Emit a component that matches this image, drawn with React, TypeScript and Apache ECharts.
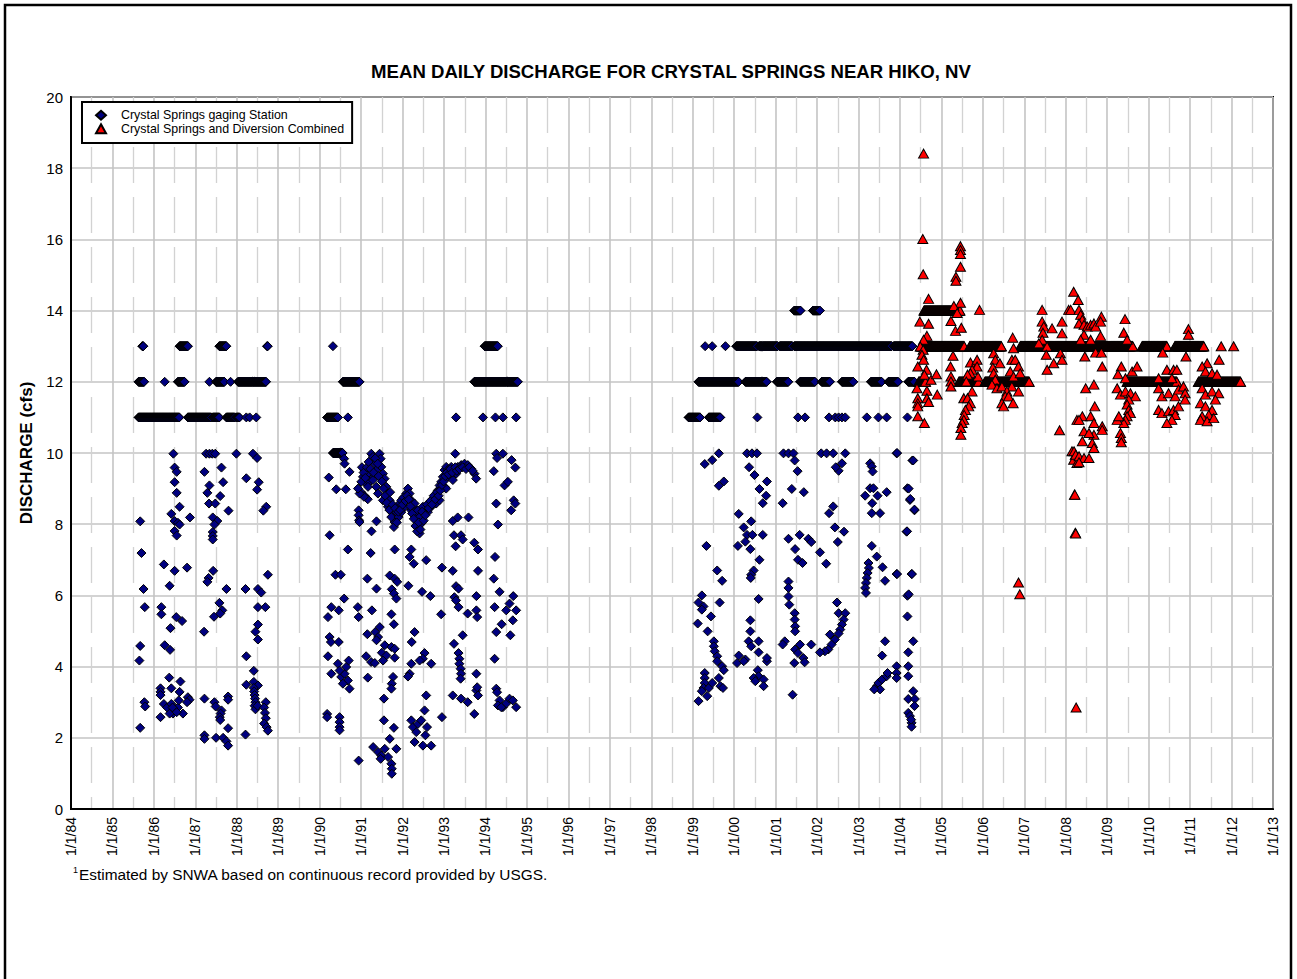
import React, { useEffect, useRef } from "react";
import * as echarts from "echarts";

const FONT = "'Liberation Sans', Arial, Helvetica, sans-serif";

const xTickLabels = [
  "1/1/84", "1/1/85", "1/1/86", "1/1/87", "1/1/88", "1/1/89", "1/1/90", "1/1/91", "1/1/92", "1/1/93",
  "1/1/94", "1/1/95", "1/1/96", "1/1/97", "1/1/98", "1/1/99", "1/1/00", "1/1/01", "1/1/02", "1/1/03",
  "1/1/04", "1/1/05", "1/1/06", "1/1/07", "1/1/08", "1/1/09", "1/1/10", "1/1/11", "1/1/12", "1/1/13",
];

// Runs of constant daily discharge: [startYear, endYear, cfs]
const blueRuns: number[][] = [
  [1985.72, 1985.75, 13], [1986.62, 1986.82, 13], [1987.58, 1987.75, 13], [1988.73, 1988.75, 13],
  [1985.63, 1985.77, 12], [1986.26, 1986.26, 12], [1986.58, 1986.74, 12], [1987.34, 1987.34, 12], [1987.5, 1987.7, 12], [1987.85, 1987.85, 12], [1988.03, 1988.71, 12],
  [1985.63, 1986.62, 11], [1986.82, 1987.38, 11], [1987.42, 1987.58, 11], [1987.75, 1987.95, 11], [1987.99, 1988.07, 11], [1988.23, 1988.23, 11], [1988.31, 1988.31, 11], [1988.47, 1988.47, 11],
  [1990.32, 1990.32, 13], [1993.98, 1994.3, 13],
  [1990.56, 1990.96, 12], [1993.73, 1994.78, 12],
  [1990.18, 1990.44, 11], [1990.68, 1990.68, 11], [1993.29, 1993.29, 11], [1993.94, 1993.94, 11], [1994.24, 1994.24, 11], [1994.42, 1994.42, 11], [1994.74, 1994.74, 11],
  [1990.32, 1990.56, 10],
  [2001.45, 2001.6, 14], [2001.9, 2002.07, 14],
  [1999.3, 1999.3, 13], [1999.47, 1999.47, 13], [1999.79, 1999.79, 13], [2000.05, 2000.55, 13], [2000.6, 2001.05, 13], [2001.1, 2001.4, 13], [2001.45, 2003.8, 13], [2003.85, 2004.3, 13],
  [1999.14, 2000.11, 12], [2000.27, 2000.79, 12], [2001.03, 2001.31, 12], [2001.59, 2001.95, 12], [2002.11, 2002.31, 12], [2002.6, 2002.88, 12], [2003.3, 2003.56, 12], [2003.72, 2003.96, 12], [2004.2, 2004.35, 12],
  [1998.9, 1999.18, 11], [1999.39, 1999.67, 11], [2000.56, 2000.56, 11], [2001.54, 2001.54, 11], [2001.71, 2001.71, 11],
  [2002.29, 2002.29, 11], [2002.44, 2002.44, 11], [2002.52, 2002.52, 11], [2002.6, 2002.6, 11], [2002.68, 2002.68, 11],
  [2003.2, 2003.2, 11], [2003.48, 2003.48, 11], [2003.68, 2003.68, 11], [2004.18, 2004.18, 11],
];

const redRuns: number[][] = [
  [2004.58, 2005.45, 14],
  [2004.5, 2005.55, 13], [2005.68, 2006.45, 13], [2006.9, 2009.62, 13], [2009.84, 2010.44, 13], [2010.63, 2011.33, 13], [2011.75, 2011.75, 13], [2012.05, 2012.05, 13],
  [2004.45, 2004.62, 12], [2005.42, 2005.9, 12], [2006.05, 2007.12, 12], [2009.48, 2010.68, 12], [2011.2, 2012.22, 12],
];

// 1985-1989 record
const blueA: number[][] = [
  [1986.47, 9.98], [1987.26, 9.98], [1987.34, 9.98], [1987.41, 9.98], [1987.48, 9.98], [1987.99, 9.98], [1988.39, 9.98], [1988.49, 9.86],
  [1986.5, 9.59], [1986.55, 9.47], [1987.22, 9.47], [1987.63, 9.59], [1988.23, 9.29], [1986.5, 9.18], [1987.67, 9.18], [1988.53, 9.18],
  [1987.34, 9.09], [1988.49, 8.97], [1986.55, 8.88], [1987.29, 8.88], [1987.6, 8.79], [1987.33, 8.58], [1987.48, 8.58], [1986.62, 8.49],
  [1988.71, 8.49], [1988.64, 8.38], [1987.8, 8.38], [1986.42, 8.29], [1986.87, 8.19], [1986.5, 8.09], [1986.58, 8.04], [1986.62, 7.99],
  [1987.42, 8.19], [1987.53, 8.09], [1987.46, 7.99], [1985.67, 8.08], [1986.5, 7.81], [1986.55, 7.68], [1987.42, 7.78], [1987.42, 7.67],
  [1987.42, 7.57], [1985.7, 7.19], [1986.24, 6.87], [1986.5, 6.69], [1986.8, 6.78], [1986.38, 6.27], [1985.75, 6.18], [1987.43, 6.69],
  [1987.32, 6.49], [1987.29, 6.38], [1987.75, 6.18], [1988.21, 6.18], [1988.51, 6.18], [1988.59, 6.08], [1988.75, 6.58],
  [1985.78, 5.67], [1986.18, 5.67], [1986.18, 5.47], [1986.54, 5.39], [1986.68, 5.28], [1986.4, 5.08], [1987.58, 5.79], [1987.65, 5.58],
  [1987.6, 5.49], [1987.45, 5.4], [1987.21, 4.98], [1988.51, 5.67], [1988.69, 5.67], [1988.51, 5.18], [1988.45, 4.98], [1988.51, 4.76],
  [1985.67, 4.58], [1986.26, 4.6], [1986.39, 4.47], [1985.65, 4.17], [1988.23, 4.29], [1988.41, 3.88], [1988.23, 3.49], [1988.41, 3.57],
  [1988.51, 3.47], [1986.37, 3.69], [1986.64, 3.58], [1986.16, 3.39], [1986.16, 3.29], [1986.16, 3.2], [1986.42, 3.39], [1986.62, 3.29],
  [1986.82, 3.14], [1986.86, 3.07], [1985.77, 3.0], [1985.79, 2.88],
  [1986.24, 2.95], [1986.32, 2.85], [1986.42, 2.95], [1986.5, 2.76], [1986.58, 2.85], [1986.7, 2.68], [1986.46, 2.68], [1986.38, 2.68],
  [1986.45, 2.85], [1986.55, 2.72], [1986.8, 3.0], [1986.6, 3.05],
  [1986.16, 2.58], [1985.67, 2.28], [1987.22, 3.1], [1987.46, 3.0], [1987.49, 2.88], [1987.63, 2.77], [1987.61, 2.68], [1987.59, 2.58],
  [1987.6, 2.5], [1987.79, 3.16], [1987.79, 3.07], [1987.79, 2.27], [1987.22, 2.07], [1987.22, 1.97], [1987.5, 2.0], [1987.67, 2.0],
  [1987.75, 1.9], [1987.79, 1.78], [1988.21, 2.09],
  [1988.41, 3.4], [1988.42, 3.3], [1988.43, 3.2], [1988.44, 3.1], [1988.45, 3.0], [1988.43, 2.9], [1988.45, 2.8], [1988.5, 2.9],
  [1988.7, 3.0], [1988.66, 2.85], [1988.68, 2.7], [1988.7, 2.55], [1988.66, 2.4], [1988.72, 2.3], [1988.75, 2.2],
];

// 1990-1995 record, scattered days
const blueB: number[][] = [
  [1990.59, 9.84], [1990.6, 9.7], [1993.27, 9.98], [1994.26, 9.98], [1994.42, 9.98], [1994.28, 9.86], [1990.22, 9.31], [1990.72, 9.47],
  [1990.4, 8.98], [1990.63, 8.98], [1990.94, 8.39], [1990.94, 8.25], [1990.95, 8.11], [1990.96, 8.06], [1991.0, 8.9], [1991.08, 8.8], [1991.16, 8.7],
  [1990.24, 7.69], [1990.68, 7.29], [1991.25, 7.8], [1991.37, 8.08], [1991.23, 7.19], [1991.81, 7.29], [1992.21, 7.29], [1992.17, 7.08],
  [1992.27, 6.89], [1992.57, 6.99], [1992.95, 6.78], [1993.21, 8.09], [1993.33, 8.19], [1993.24, 7.69], [1993.41, 7.69], [1993.45, 7.57],
  [1993.28, 7.38], [1993.73, 7.48], [1993.82, 7.29], [1993.59, 8.19], [1993.21, 6.69], [1993.82, 6.69], [1994.23, 7.08], [1994.2, 6.47],
  [1994.26, 8.58], [1994.3, 7.99], [1994.46, 9.09], [1994.54, 9.19], [1994.68, 8.67], [1994.72, 8.58], [1994.62, 8.39], [1994.63, 9.8],
  [1994.72, 9.59], [1994.2, 9.49],
  [1990.38, 6.58], [1990.51, 6.58], [1990.59, 5.91], [1990.28, 5.67], [1990.2, 5.39], [1990.46, 5.58], [1990.92, 5.67], [1990.94, 5.39],
  [1991.15, 6.47], [1991.37, 6.19], [1991.26, 5.58], [1991.69, 6.56], [1991.81, 6.47], [1991.87, 6.38], [1991.74, 6.17], [1991.79, 6.05],
  [1991.85, 5.91], [1991.73, 5.47], [1991.79, 5.19], [1992.14, 6.27], [1992.47, 6.1], [1992.67, 5.98], [1992.93, 5.47], [1993.29, 6.26],
  [1993.35, 6.19], [1993.25, 5.95], [1993.29, 5.86], [1993.35, 5.67], [1993.57, 5.49], [1993.78, 5.98], [1993.78, 5.58], [1993.8, 5.39],
  [1994.22, 5.67], [1994.34, 6.1], [1994.5, 5.58], [1994.58, 5.77], [1994.67, 5.98], [1994.74, 5.58], [1994.66, 5.3], [1994.39, 5.19],
  [1994.26, 4.97], [1994.6, 4.88],
  [1990.24, 4.83], [1990.27, 4.69], [1990.46, 4.69], [1991.15, 4.91], [1991.34, 4.97], [1991.45, 5.11], [1991.41, 4.83], [1991.37, 4.74],
  [1991.57, 4.6], [1991.73, 4.55], [1991.81, 4.5], [1991.5, 4.39], [1991.61, 4.31], [1991.81, 4.25], [1992.29, 4.97], [1992.22, 4.69],
  [1992.53, 4.38], [1992.49, 4.22], [1992.41, 4.17], [1992.69, 4.08], [1990.2, 4.29], [1990.28, 3.8], [1990.44, 4.08], [1990.52, 3.71],
  [1990.6, 3.8], [1990.68, 3.61], [1990.72, 3.38], [1990.48, 3.89], [1990.64, 3.99], [1990.7, 4.17], [1990.56, 3.52], [1991.12, 4.29],
  [1991.16, 3.69], [1991.24, 4.13], [1991.33, 4.1], [1991.53, 4.17], [1991.77, 3.71], [1991.74, 3.52], [1991.73, 3.38], [1991.55, 3.1],
  [1992.21, 4.08], [1992.17, 3.8], [1992.13, 3.72], [1992.57, 3.19], [1993.24, 4.64], [1993.35, 4.38], [1993.37, 4.22], [1993.37, 4.08],
  [1993.4, 3.94], [1993.41, 3.8], [1993.4, 3.66], [1993.45, 4.88], [1993.21, 3.19], [1993.41, 3.1], [1993.57, 3.0], [1993.73, 2.67],
  [1993.78, 3.33], [1993.82, 3.19], [1993.8, 3.42], [1993.78, 3.8], [1994.22, 4.22], [1994.26, 3.38], [1994.28, 3.28], [1994.34, 3.05],
  [1994.42, 2.86], [1994.5, 2.96], [1994.58, 3.1], [1994.66, 3.05], [1994.74, 2.86], [1994.3, 2.91], [1994.38, 2.86],
  [1990.18, 2.67], [1990.18, 2.58], [1990.48, 2.58], [1990.48, 2.44], [1990.48, 2.3], [1990.48, 2.21], [1991.55, 2.49], [1991.79, 2.28],
  [1991.69, 1.97], [1991.29, 1.74], [1991.41, 1.6], [1991.49, 1.5], [1991.57, 1.69], [1991.65, 1.46], [1991.73, 1.27], [1991.74, 1.13],
  [1991.74, 0.99], [1991.85, 1.69], [1991.47, 1.41], [1990.94, 1.36], [1992.21, 2.49], [1992.25, 2.3], [1992.33, 2.16], [1992.37, 2.39],
  [1992.45, 2.49], [1992.53, 2.77], [1992.49, 1.78], [1992.29, 1.88], [1992.69, 1.78], [1992.59, 2.3], [1992.95, 2.58], [1992.55, 2.07],
];

// 1991-1993 continuous recession/recovery trace
const blueCurve: number[][] = [
  [1991.245, 9.98], [1991.285, 9.89], [1991.446, 9.98], [1991.47, 9.84], [1991.325, 9.7], [1991.365, 9.52], [1991.245, 9.33], [1991.165, 9.42],
  [1991.084, 9.52], [1991.044, 9.33], [1991.124, 9.14], [1991.205, 9.19], [1991.285, 9.24], [1991.486, 9.61], [1991.526, 9.42], [1991.566, 9.28],
  [1991.606, 9.05], [1991.647, 8.86], [1991.687, 8.67], [1991.711, 8.49], [1991.743, 8.34], [1991.767, 8.2], [1991.807, 8.06], [1991.791, 7.92],
  [1991.847, 8.34], [1991.888, 8.49], [1991.928, 8.58], [1991.968, 8.67], [1992.048, 8.77], [1992.088, 8.86], [1992.129, 9.0], [1992.169, 8.86],
  [1992.209, 8.67], [1992.249, 8.49], [1992.289, 8.3], [1992.329, 8.11], [1992.369, 7.92], [1992.41, 7.74], [1992.45, 8.02], [1992.49, 8.2],
  [1992.53, 8.34], [1992.57, 8.44], [1992.651, 8.58], [1992.731, 8.72], [1992.811, 8.81], [1992.851, 8.95], [1992.892, 9.09], [1992.932, 9.19],
  [1992.972, 9.33], [1993.012, 9.52], [1993.052, 9.61], [1993.092, 9.52], [1993.173, 9.61], [1993.253, 9.52], [1993.333, 9.61], [1993.414, 9.66],
  [1993.494, 9.7], [1993.574, 9.66], [1993.655, 9.56], [1993.735, 9.42], [1993.775, 9.28],
  [1991.068, 8.77], [1990.964, 8.86], [1990.924, 9.0], [1991.004, 9.19], [1991.165, 9.05], [1991.365, 9.05], [1991.406, 8.86], [1991.526, 8.67],
  [1991.647, 8.49], [1991.727, 8.2], [1991.904, 8.2], [1991.968, 8.34], [1992.048, 8.49], [1992.209, 8.39], [1992.289, 8.58], [1992.369, 8.39],
  [1992.41, 8.2], [1992.49, 8.49], [1992.61, 8.34], [1992.691, 8.49], [1992.811, 8.58], [1992.892, 8.67], [1993.012, 9.05], [1993.092, 9.33],
  [1993.052, 9.0], [1993.173, 9.42], [1993.293, 9.42], [1993.213, 9.24],
  [1991.02, 9.6], [1991.06, 9.45], [1991.1, 9.3], [1991.14, 9.6], [1991.18, 9.75], [1991.22, 9.55], [1991.3, 9.45], [1991.34, 9.85],
  [1991.4, 9.7], [1991.42, 9.35], [1991.5, 9.2], [1991.54, 9.0], [1991.58, 8.8], [1991.62, 8.6], [1991.68, 8.4], [1991.7, 8.9],
  [1991.76, 8.55], [1991.82, 8.45], [1991.86, 8.05], [1991.9, 8.35], [1991.94, 8.4], [1992.0, 8.55], [1992.02, 8.75], [1992.07, 8.65],
  [1992.11, 8.8], [1992.15, 8.7], [1992.19, 8.5], [1992.23, 8.3], [1992.27, 8.15], [1992.31, 7.95], [1992.35, 7.8], [1992.39, 8.05],
  [1992.43, 7.85], [1992.47, 8.35], [1992.51, 8.1], [1992.55, 8.25], [1992.59, 8.55], [1992.63, 8.45], [1992.67, 8.65], [1992.71, 8.55],
  [1992.75, 8.8], [1992.79, 8.7], [1992.83, 8.9], [1992.87, 8.8], [1992.91, 8.95], [1992.95, 9.1], [1992.99, 9.2], [1993.03, 9.35],
  [1993.07, 9.45], [1993.11, 9.4], [1993.15, 9.55], [1993.2, 9.45], [1993.27, 9.6], [1993.31, 9.5], [1993.37, 9.55], [1993.45, 9.6],
  [1993.53, 9.55], [1993.61, 9.6], [1993.69, 9.5],
];

// 1999-2004 record, scattered days
const blueC: number[][] = [
  [1999.63, 9.99], [1999.47, 9.8], [1999.29, 9.69], [2000.31, 9.99], [2000.43, 9.99], [2000.55, 9.99], [2001.19, 9.99], [2001.31, 9.99],
  [2001.43, 9.99], [2002.1, 9.99], [2002.23, 9.99], [2002.39, 9.99], [2002.68, 9.99], [2003.92, 9.99], [2000.36, 9.6], [2000.49, 9.38],
  [2001.46, 9.79], [2001.53, 9.49], [2002.6, 9.71], [2002.52, 9.5], [2002.45, 9.6], [2003.28, 9.71], [2003.32, 9.62], [2003.34, 9.48],
  [2004.3, 9.79], [1999.75, 9.2], [1999.63, 9.08], [2000.79, 9.2], [2000.61, 8.99], [2000.77, 8.8], [2000.69, 8.59], [2001.39, 8.99],
  [2001.68, 8.9], [2001.17, 8.59], [2002.39, 8.5], [2002.29, 8.31], [2003.16, 8.8], [2003.28, 9.01], [2003.36, 9.01], [2003.46, 8.8],
  [2003.68, 8.9], [2003.33, 8.59], [2003.32, 8.31], [2003.52, 8.31], [2004.18, 9.01], [2004.24, 8.68], [2004.35, 8.39], [2000.11, 8.29],
  [2000.41, 8.08], [2000.23, 7.91], [2000.31, 7.7], [2000.44, 7.7], [2000.69, 7.7], [2000.27, 7.51], [2000.09, 7.39], [2000.39, 7.3],
  [2001.31, 7.59], [2001.58, 7.7], [2001.79, 7.59], [2001.86, 7.5], [2001.47, 7.3], [2002.07, 7.21], [2001.54, 7.0], [2001.65, 6.91],
  [2002.22, 6.89], [2002.43, 7.91], [2002.65, 7.79], [2002.5, 7.5], [2004.16, 7.79], [1999.33, 7.39], [1999.59, 6.7], [1999.71, 6.41],
  [2000.61, 7.0], [2000.47, 6.7], [2000.41, 6.58], [2000.4, 6.49], [2003.32, 7.39], [2003.44, 7.09], [2003.24, 6.91], [2003.25, 6.77],
  [2003.22, 6.63], [2003.2, 6.49], [2003.18, 6.35], [2003.16, 6.21], [2003.18, 6.07], [2003.58, 6.79], [2003.64, 6.41], [2003.92, 6.6],
  [2004.28, 6.6], [2001.31, 6.39], [2001.31, 6.21], [2001.31, 5.97], [2001.33, 5.74], [2001.46, 5.5], [2001.46, 5.32], [2001.47, 5.13],
  [2001.47, 4.99], [1999.22, 6.0], [1999.14, 5.8], [1999.26, 5.69], [1999.22, 5.6], [1999.44, 5.41], [1999.12, 5.21], [1999.36, 4.99],
  [1999.65, 5.8], [2000.59, 5.9], [2000.39, 5.3], [2000.39, 4.99], [2000.35, 4.71], [2000.59, 4.71], [2000.59, 4.4], [2000.41, 4.57],
  [2000.11, 4.31], [2000.27, 4.2], [1999.51, 4.71], [1999.51, 4.57], [1999.53, 4.43], [1999.59, 4.29], [1999.59, 4.15], [1999.71, 4.01],
  [1999.75, 3.9], [2002.48, 5.8], [2002.52, 5.5], [2002.68, 5.5], [2002.64, 5.32], [2002.6, 5.18], [2002.56, 5.04], [2002.52, 4.93],
  [2002.43, 4.76], [2002.35, 4.62], [2002.27, 4.48], [2002.19, 4.43], [2002.07, 4.4], [2002.31, 4.9], [2001.22, 4.71], [2001.17, 4.62],
  [2001.59, 4.62], [2001.47, 4.48], [2001.54, 4.38], [2001.67, 4.24], [2001.7, 4.12], [2001.86, 4.62], [2001.45, 4.1], [2000.79, 4.15],
  [2000.79, 4.24], [2000.57, 3.9], [2000.59, 3.73], [2000.47, 3.68], [2000.51, 3.59], [2000.71, 3.64], [2000.71, 3.45], [2000.07, 4.1],
  [2000.23, 4.15], [1999.29, 3.82], [1999.29, 3.68], [1999.29, 3.54], [1999.26, 3.4], [1999.22, 3.31], [1999.39, 3.4], [1999.35, 3.17],
  [1999.14, 3.03], [1999.47, 3.54], [1999.63, 3.68], [1999.67, 3.45], [1999.73, 3.4], [2001.41, 3.21], [2003.64, 4.71], [2003.57, 4.31],
  [2003.44, 3.45], [2003.48, 3.54], [2003.52, 3.36], [2003.57, 3.64], [2003.68, 3.73], [2003.7, 3.82], [2003.92, 4.01], [2003.92, 3.82],
  [2003.92, 3.68], [2003.38, 3.36], [2004.18, 5.99], [2004.18, 5.41], [2004.32, 4.71], [2004.2, 4.4], [2004.2, 4.01], [2004.2, 3.73],
  [2004.32, 3.31], [2004.2, 3.09], [2004.36, 3.09], [2004.35, 2.89], [2004.2, 2.7], [2004.24, 2.61], [2004.28, 2.42], [2004.28, 2.31],
  [2004.27, 2.51], [2003.93, 10.0], [2004.32, 9.79], [2004.21, 9.0], [2004.25, 8.71], [2004.35, 8.41], [2004.17, 7.8], [2003.93, 6.6],
  [2004.29, 6.6], [2004.21, 6.03],
];

// Springs and diversion combined, scattered days
const redPts: number[][] = [
  [2004.57, 18.41], [2004.55, 16.01], [2004.56, 15.02], [2005.46, 15.81], [2005.46, 15.7], [2005.46, 15.59], [2005.46, 15.23], [2005.35, 14.95],
  [2005.35, 14.84], [2004.69, 14.33], [2005.46, 14.22], [2005.92, 14.02], [2005.3, 14.13], [2005.38, 13.93], [2005.23, 13.71], [2005.34, 13.43],
  [2005.48, 13.52], [2004.69, 13.63], [2004.65, 13.29], [2004.48, 13.69], [2004.57, 13.18], [2004.49, 12.99], [2004.56, 12.9], [2004.53, 12.76],
  [2004.57, 12.62], [2004.43, 12.43], [2004.64, 12.34], [2004.59, 12.2], [2004.75, 12.06], [2004.88, 12.21], [2004.41, 11.82], [2004.65, 11.75],
  [2004.65, 11.54], [2004.9, 11.64], [2004.43, 11.54], [2004.43, 11.4], [2004.43, 11.31], [2004.69, 11.43], [2004.43, 11.03], [2004.59, 10.84],
  [2005.28, 12.73], [2005.22, 12.43], [2005.23, 12.15], [2005.23, 12.01], [2005.23, 11.87], [2005.7, 12.54], [2005.86, 12.62], [2005.86, 12.43],
  [2005.88, 12.15], [2005.74, 12.34], [2005.7, 12.24], [2005.63, 12.2], [2005.6, 12.01], [2005.74, 11.73], [2005.54, 11.54], [2005.63, 11.54],
  [2005.7, 11.4], [2005.66, 11.31], [2005.58, 11.21], [2005.55, 11.07], [2005.54, 10.93], [2005.5, 10.84], [2005.47, 10.7], [2005.47, 10.51],
  [2006.26, 12.8], [2006.3, 12.62], [2006.41, 12.52], [2006.24, 12.4], [2006.26, 12.24], [2006.3, 12.06], [2006.22, 11.92], [2006.34, 11.82],
  [2006.46, 11.87], [2006.72, 13.24], [2006.74, 12.94], [2006.7, 12.62], [2006.78, 12.62], [2006.86, 12.43], [2006.66, 12.29], [2006.74, 12.15],
  [2006.9, 12.24], [2006.7, 11.87], [2006.58, 11.73], [2006.54, 11.59], [2006.46, 11.4], [2006.5, 11.31], [2006.62, 11.59], [2006.73, 11.4],
  [2006.86, 11.73], [2006.86, 6.36], [2006.89, 6.03],
  [2007.43, 14.02], [2007.43, 13.69], [2007.47, 13.55], [2007.45, 13.38], [2007.43, 13.18], [2007.35, 13.08], [2007.55, 12.99], [2007.67, 13.5],
  [2007.53, 12.76], [2007.71, 12.52], [2007.55, 12.34], [2007.87, 12.8], [2007.91, 12.62], [2007.91, 13.69], [2007.91, 13.36], [2008.07, 14.02],
  [2007.85, 10.64], [2008.19, 14.53], [2008.27, 10.93], [2008.15, 10.05], [2008.23, 9.95], [2008.31, 9.86], [2008.19, 9.81], [2008.27, 9.72],
  [2008.21, 8.83], [2008.23, 7.76],
  [2008.3, 14.3], [2008.12, 14.02], [2008.32, 14.02], [2008.36, 13.88], [2008.4, 13.74], [2008.32, 13.64], [2008.44, 13.6], [2008.52, 13.55],
  [2008.6, 13.6], [2008.68, 13.64], [2008.72, 13.55], [2008.86, 13.83], [2008.84, 13.69], [2008.44, 13.32], [2008.36, 13.18], [2008.6, 13.18],
  [2008.84, 13.29], [2009.43, 13.76], [2009.4, 13.38], [2009.48, 13.18], [2008.46, 12.71], [2008.72, 12.82], [2008.86, 12.82], [2008.88, 12.43],
  [2010.96, 13.48], [2010.96, 13.32], [2010.9, 12.71], [2010.34, 12.82], [2011.7, 12.62], [2011.41, 12.52], [2011.29, 12.43], [2011.37, 12.29],
  [2011.53, 12.24], [2011.65, 12.2], [2009.34, 12.43], [2009.26, 12.21], [2009.44, 12.1], [2009.6, 12.29], [2009.72, 12.43], [2010.44, 12.34],
  [2010.6, 12.34], [2010.68, 12.34], [2010.24, 12.1], [2010.56, 12.1], [2008.48, 11.82], [2008.68, 11.92], [2009.24, 11.82], [2009.32, 11.64],
  [2009.44, 11.73], [2009.56, 11.68], [2009.68, 11.59], [2009.52, 11.5], [2009.48, 11.36], [2009.52, 11.21], [2009.56, 11.12], [2009.48, 11.03],
  [2009.44, 10.93], [2009.4, 10.84], [2009.24, 10.93], [2009.28, 11.03], [2010.24, 11.82], [2010.32, 11.59], [2010.48, 11.68], [2010.64, 11.59],
  [2010.72, 11.78], [2010.84, 11.87], [2010.88, 11.68], [2010.88, 11.5], [2010.24, 11.21], [2010.32, 11.12], [2010.48, 11.17], [2010.6, 11.21],
  [2010.64, 11.07], [2010.56, 10.93], [2010.44, 10.84], [2010.72, 11.31], [2011.29, 11.82], [2011.37, 11.64], [2011.53, 11.73], [2011.69, 11.68],
  [2011.25, 11.4], [2011.37, 11.31], [2011.61, 11.5], [2011.53, 11.21], [2011.45, 11.07], [2011.29, 11.03], [2011.25, 10.93], [2011.41, 10.89],
  [2011.57, 10.98], [2008.7, 11.31], [2008.4, 11.03], [2008.6, 11.03], [2008.32, 10.93], [2008.68, 10.84], [2008.88, 10.75], [2008.88, 10.65],
  [2008.44, 10.61], [2008.68, 10.51], [2008.56, 10.56], [2008.4, 10.33], [2008.64, 10.28], [2008.68, 10.14], [2008.2, 10.05], [2008.24, 9.95],
  [2008.32, 9.91], [2008.44, 9.86], [2008.56, 9.86], [2008.32, 9.74], [2009.32, 10.56], [2009.34, 10.42], [2009.34, 10.3], [2008.22, 8.83],
  [2008.24, 7.74], [2008.25, 2.85],
];

const RUN_STEP = 1 / 120;

function expandRuns(runs: number[][]): number[][] {
  const out: number[][] = [];
  for (const [a, b, v] of runs) {
    if (b <= a) {
      out.push([a, v]);
    } else {
      for (let t = a; t <= b + 1e-9; t += RUN_STEP) out.push([+t.toFixed(4), v]);
    }
  }
  return out;
}

export default function App() {
  const ref = useRef<HTMLDivElement>(null);

  useEffect(() => {
    if (!ref.current) return;
    const chart = echarts.init(ref.current, undefined, { renderer: "svg" });

    const blueData = [...expandRuns(blueRuns), ...blueA, ...blueB, ...blueCurve, ...blueC];
    const redData = [...expandRuns(redRuns), ...redPts];

    chart.setOption({
      animation: false,
      backgroundColor: "#ffffff",
      textStyle: { fontFamily: FONT, color: "#000" },
      title: {
        text: "MEAN DAILY DISCHARGE FOR CRYSTAL SPRINGS NEAR HIKO, NV",
        left: 666,
        top: 57,
        textAlign: "center",
        textStyle: { fontFamily: FONT, fontSize: 18.6, fontWeight: "bold", color: "#000" },
      },
      legend: {
        orient: "vertical",
        left: 82,
        top: 102,
        padding: [7, 8, 8, 13],
        itemGap: 1,
        itemWidth: 10,
        itemHeight: 9,
        backgroundColor: "#fff",
        borderColor: "#000",
        borderWidth: 2,
        textStyle: { fontFamily: FONT, fontSize: 12.4, color: "#000", padding: [0, 0, 0, 10], lineHeight: 12.5 },
        data: ["Crystal Springs gaging Station", "Crystal Springs and Diversion Combined"],
      },
      grid: {
        left: 71,
        top: 97,
        width: 1202,
        height: 712,
        show: true,
        borderColor: "#000",
        borderWidth: 2,
        backgroundColor: "transparent",
      },
      xAxis: {
        type: "value",
        min: 1984,
        max: 2013,
        interval: 1,
        axisLine: { show: true, onZero: false, lineStyle: { color: "#000", width: 2 } },
        axisTick: { show: false },
        minorTick: { show: false, splitNumber: 2 },
        axisLabel: {
          rotate: 90,
          margin: 8,
          fontSize: 14,
          color: "#000",
          fontFamily: FONT,
          formatter: (v: number) => xTickLabels[Math.round(v - 1984)] ?? "",
        },
        splitLine: { show: true, lineStyle: { color: "#c4c4c4", width: 1.6 } },
        minorSplitLine: { show: true, lineStyle: { color: "#d2d2d2", width: 1.3, type: [36, 14] } },
      },
      yAxis: {
        type: "value",
        min: 0,
        max: 20,
        interval: 2,
        name: "DISCHARGE (cfs)",
        nameLocation: "middle",
        nameGap: 31,
        nameTextStyle: { fontFamily: FONT, fontSize: 17, fontWeight: "bold", color: "#000" },
        axisLine: { show: true, lineStyle: { color: "#000", width: 2 } },
        axisTick: { show: false },
        axisLabel: { margin: 8, fontSize: 15, color: "#000", fontFamily: FONT },
        splitLine: { show: true, lineStyle: { color: "#c4c4c4", width: 1.6 } },
      },
      series: [
        {
          name: "Crystal Springs gaging Station",
          type: "scatter",
          symbol: "diamond",
          symbolSize: [9, 9],
          progressive: 0,
          large: false,
          silent: true,
          itemStyle: { color: "#00007f", borderColor: "#000", borderWidth: 1, opacity: 1 },
          data: blueData,
        },
        {
          name: "Crystal Springs and Diversion Combined",
          type: "scatter",
          symbol: "triangle",
          symbolSize: [10, 9],
          progressive: 0,
          large: false,
          silent: true,
          itemStyle: { color: "#ff0000", borderColor: "#000", borderWidth: 1, opacity: 1 },
          data: redData,
        },
      ],
      graphic: [
        {
          type: "rect",
          silent: true,
          shape: { x: 5, y: 5, width: 1286, height: 990 },
          style: { fill: "none", stroke: "#000", lineWidth: 2.5 },
        },
        {
          type: "text",
          silent: true,
          x: 73,
          y: 865,
          style: { text: "1", fontSize: 9, fontFamily: FONT, fill: "#000" },
        },
        {
          type: "text",
          silent: true,
          x: 79,
          y: 867,
          style: {
            text: "Estimated by SNWA based on continuous record provided by USGS.",
            fontSize: 15.4,
            fontFamily: FONT,
            fill: "#000",
          },
        },
      ],
    });

    return () => chart.dispose();
  }, []);

  return (
    <div
      ref={ref}
      style={{ position: "absolute", left: 0, top: 0, width: 1297, height: 979 }}
    />
  );
}
